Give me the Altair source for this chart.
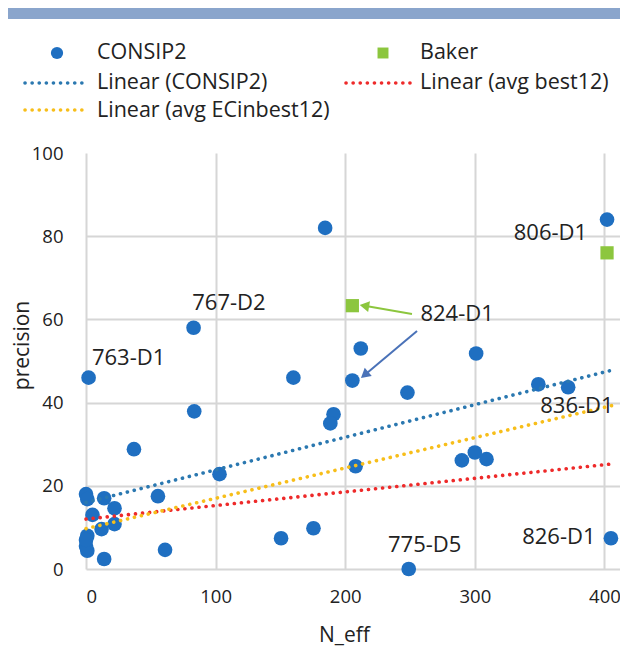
import math
import altair as alt
import pandas as pd

# ---------------- data ----------------
consip_x = [2, 83, 160, 184.5, 212, 205.5, 248, 301, 402, 349, 372, 191, 188.5, 208,
            290, 300, 309, 175.5, 249, 405, 83.5, 37, 103, 55.5, 150.5, 61, 14,
            0, 1, 14, 22, 5, 22, 12, 1, 0, 1, 0]
consip_y = [46, 58, 46, 82, 53, 45.3, 42.4, 51.8, 84, 44.4, 43.7, 37.2, 35, 24.7,
            26.1, 28, 26.4, 9.8, 0, 7.4, 37.9, 28.8, 22.8, 17.5, 7.4, 4.6, 2.4,
            18, 16.8, 17, 14.6, 13, 10.8, 9.6, 8, 5.5, 4.4, 7]

baker_x = [205.5, 402]
baker_y = [63.3, 76]

trend_names = ["Linear (CONSIP2)", "Linear (avg best12)", "Linear (avg ECinbest12)"]
trend_colors = ["#2b78b0", "#ee2a2a", "#f7be1a"]
trend_x0 = [0, 0, 0]
trend_x1 = [406, 404, 406]
trend_y0 = [16, 12, 9.7]
trend_y1 = [47.8, 25.2, 39.3]

label_text = ["763-D1", "767-D2", "824-D1", "806-D1", "836-D1", "775-D5", "826-D1"]
label_x = [4.6, 82, 258, 330, 350.5, 233, 336.5]
label_y = [50.8, 64, 61.4, 80.8, 39.1, 5.8, 7.7]

arrow_x0 = [251.5, 255.4]
arrow_y0 = [61.3, 57.2]
arrow_x1 = [216, 215.9]
arrow_y1 = [63.2, 46.9]
arrow_colors = ["#8cc63e", "#4a72b8"]

x_ticks = [0, 100, 200, 300, 400]
y_ticks = [0, 20, 40, 60, 80, 100]

# ---------------- layout ----------------
W, H = 534, 416
XMAX = 412
FONT = "Open Sans"
TXT = "#222222"
PX = W / XMAX      # pixels per x unit
PY = H / 100       # pixels per y unit

xs = alt.Scale(domain=[0, XMAX], nice=False, zero=False)
ys = alt.Scale(domain=[0, 100], nice=False, zero=False)

pts = pd.DataFrame({"x": consip_x, "y": consip_y})
bak = pd.DataFrame({"x": baker_x, "y": baker_y})
trend_rows = []
for n, x0, x1, y0, y1 in zip(trend_names, trend_x0, trend_x1, trend_y0, trend_y1):
    trend_rows.append({"s": n, "x": x0, "y": y0})
    trend_rows.append({"s": n, "x": x1, "y": y1})
trend = pd.DataFrame(trend_rows)
labels = pd.DataFrame({"t": label_text, "x": label_x, "y": label_y})
angles = []
for xa, ya, xb, yb in zip(arrow_x0, arrow_y0, arrow_x1, arrow_y1):
    dx = (xb - xa) * PX
    dy = -(yb - ya) * PY
    a = math.degrees(math.atan2(dx, -dy)) % 360
    angles.append(a)
arrows = pd.DataFrame({"x": arrow_x0, "y": arrow_y0, "x2": arrow_x1, "y2": arrow_y1,
                       "c": arrow_colors, "a": angles})

x_axis = alt.Axis(values=x_ticks, title="N_eff", grid=True, gridColor="#d6d6d6",
                  gridWidth=2, domain=False, ticks=False, labelFont=FONT,
                  labelFontSize=18.5, labelColor=TXT, labelPadding=18,
                  titleFont=FONT, titleFontSize=21, titleFontWeight="normal",
                  titleColor=TXT, titleX=258, titleY=66, titleBaseline="middle",
                  titleAlign="center")
y_axis = alt.Axis(values=y_ticks, title="precision", grid=True, gridColor="#d6d6d6",
                  gridWidth=2,
                  gridOpacity={"condition": {"test": "datum.value === 100", "value": 0}, "value": 1},
                  domain=False, ticks=False, labelFont=FONT, labelFontSize=18.5,
                  labelColor=TXT, labelPadding=23, titleFont=FONT, titleFontSize=21,
                  titleFontWeight="normal", titleColor=TXT, titleX=-64, titleY=192,
                  titleAngle=270, titleBaseline="middle", titleAlign="center")


def X(f):
    return alt.X(f, scale=xs, axis=x_axis, title="N_eff")


def Y(f):
    return alt.Y(f, scale=ys, axis=y_axis, title="precision")


points = alt.Chart(pts).mark_circle(size=215, color="#1f6fc1", opacity=1).encode(
    x=X("x:Q"), y=Y("y:Q"))
squares = alt.Chart(bak).mark_square(size=175, color="#8cc63e", opacity=1).encode(
    x=X("x:Q"), y=Y("y:Q"))
lines = alt.Chart(trend).mark_line(strokeDash=[0.1, 7], strokeCap="round",
                                   strokeWidth=3.6).encode(
    x=X("x:Q"), y=Y("y:Q"),
    color=alt.Color("s:N", scale=alt.Scale(domain=trend_names, range=trend_colors),
                    legend=None),
    detail="s:N",
)
arrow_lines = alt.Chart(arrows).mark_rule(strokeWidth=2).encode(
    x=X("x:Q"), y=Y("y:Q"), x2="x2:Q", y2="y2:Q",
    color=alt.Color("c:N", scale=None),
)
arrow_heads = alt.Chart(arrows).mark_point(shape="triangle", filled=True, size=120,
                                           opacity=1).encode(
    x=X("x2:Q"), y=Y("y2:Q"),
    color=alt.Color("c:N", scale=None),
    angle=alt.Angle("a:Q", scale=None),
)
texts = alt.Chart(labels).mark_text(align="left", baseline="middle", font=FONT,
                                    fontSize=22, color=TXT).encode(
    x=X("x:Q"), y=Y("y:Q"), text="t:N")

# ---------------- decorations and manual legend ----------------
one = alt.Data(values=[{"k": 1}])
top_bar = alt.Chart(one).mark_rect(color="#8aa5cc").encode(
    x=alt.value(-78), x2=alt.value(W), y=alt.value(-146), y2=alt.value(-134))

leg_circle = alt.Chart(one).mark_circle(size=150, color="#1f6fc1", opacity=1).encode(
    x=alt.value(-29), y=alt.value(-100))
leg_square = alt.Chart(one).mark_square(size=120, color="#8cc63e", opacity=1).encode(
    x=alt.value(297), y=alt.value(-100))


def leg_line(x0, x1, y, color):
    return alt.Chart(one).mark_rule(strokeDash=[0.1, 7], strokeCap="round",
                                    strokeWidth=3.6, color=color).encode(
        x=alt.value(x0), x2=alt.value(x1), y=alt.value(y))


def leg_text(x, y, t):
    return alt.Chart(one).mark_text(align="left", baseline="middle", font=FONT,
                                    fontSize=21.5, color=TXT, text=t).encode(
        x=alt.value(x), y=alt.value(y))


legend_layers = [
    leg_circle, leg_text(11, -100, "CONSIP2"),
    leg_square, leg_text(334, -100, "Baker"),
    leg_line(-61, 2, -70, trend_colors[0]), leg_text(11, -70, trend_names[0]),
    leg_line(260, 328, -70, trend_colors[1]), leg_text(334, -70, trend_names[1]),
    leg_line(-61, 2, -43, trend_colors[2]), leg_text(11, -42, trend_names[2]),
]

chart = alt.layer(points, squares, lines, arrow_lines, arrow_heads, texts, top_bar,
                  *legend_layers).properties(
    width=W, height=H,
    autosize=alt.AutoSizeParams(type="none"),
    padding={"left": 78, "top": 145, "right": 0, "bottom": 81},
    background="white",
).configure_view(stroke=None)

chart.save("out.html", embed_options={"renderer": "svg", "actions": False})
